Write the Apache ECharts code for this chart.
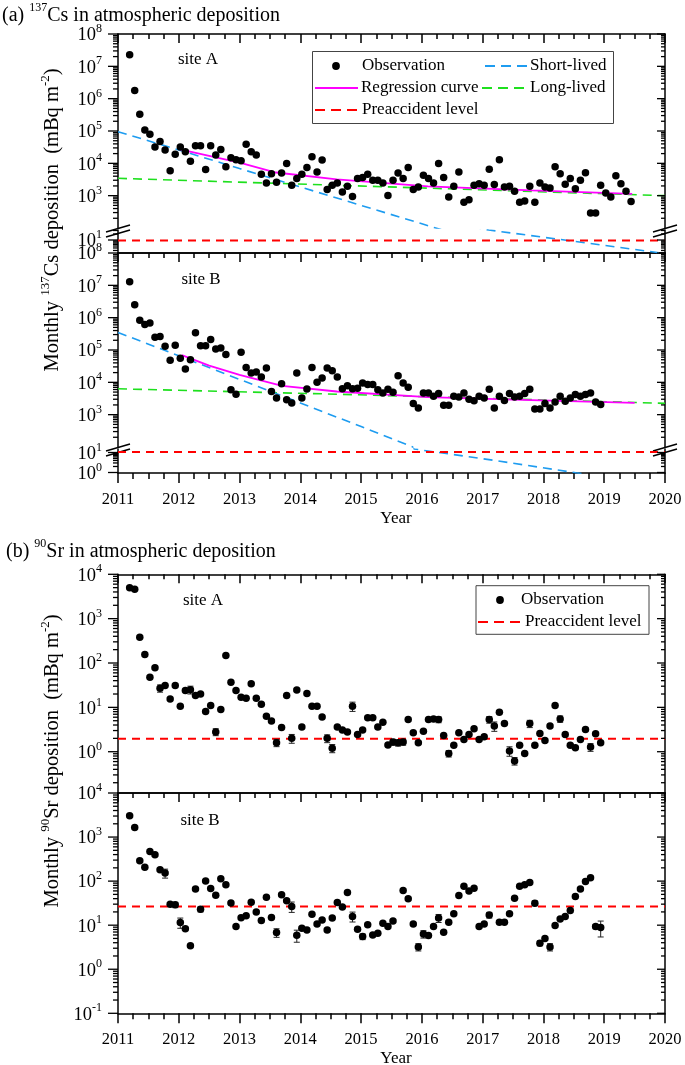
<!DOCTYPE html>
<html><head><meta charset="utf-8">
<script src="https://cdn.jsdelivr.net/npm/echarts@6/dist/echarts.min.js"></script>
<style>html,body{margin:0;padding:0;background:#fff}#c{width:685px;height:1065px}</style>
</head><body><div id="c"></div>
<script>
const FONT = "'Liberation Serif','Times New Roman',serif";

// ---------- DATA (monthly, starting March 2011) ----------
const csObsA = [2.3e7,1.8e6,3.3e5,1.07e5,8e4,3.2e4,4.7e4,2.6e4,5900,1.9e4,3.2e4,2.3e4,1.17e4,3.5e4,3.5e4,6500,3.5e4,1.8e4,2.7e4,7800,
 1.5e4,1.3e4,1.2e4,3.9e4,2.3e4,1.8e4,4600,2450,4800,2600,5000,9800,2100,3400,4600,7400,1.6e4,5400,1.26e4,1550,
 2100,2450,1300,1950,950,3400,3650,4600,3000,3000,2450,1020,3000,5000,3400,7400,1550,1870,4300,3400,
 2450,9800,3650,910,1950,5400,630,750,2100,2350,2100,6600,2200,1.3e4,1870,1950,1380,630,680,1950,
 630,2450,1870,1740,7800,4800,2250,3400,1650,3000,5100,290,290,2100,1200,910,4100,2350,1380,660];
const csObsB = [1.3e7,2.5e6,8.3e5,6.1e5,6.9e5,2.5e5,2.6e5,1.3e5,4.8e4,1.4e5,5.6e4,2.6e4,5e4,3.4e5,1.35e5,1.35e5,2.1e5,1.07e5,1.15e5,7.2e4,
 5900,4300,8.5e4,2.9e4,1.95e4,2.1e4,1.45e4,2.8e4,5200,3300,9100,2900,2300,1.95e4,3300,6200,2.9e4,1e4,1.35e4,2.8e4,
 2.3e4,1.45e4,6300,7900,6300,6600,9600,8500,8500,5900,4700,6100,4900,1.6e4,9600,7100,2200,1600,4700,4700,
 3700,4500,1950,1950,3700,3500,4700,3000,2700,3700,3300,6100,1600,3700,2750,4500,3550,3700,4500,6100,
 1500,1500,2200,1600,2450,3700,2600,3300,4200,3700,4200,4700,2450,2050];
const srObsA = [5000,4600,380,155,48,78,27,31,15.5,31,10.6,24,25,18.6,20,8.1,11,2.8,8.9,148,
 37,24,17,16,34,16,11.8,6.3,4.9,1.6,3.5,18.6,2.0,24.6,3.6,20.5,10.6,10.6,6.1,2.0,
 1.2,3.6,3.07,2.77,10.6,2.45,3.07,5.8,5.8,3.6,4.6,1.41,1.65,1.59,1.65,5.3,2.67,1.59,2.9,5.3,
 5.5,5.3,2.33,0.91,1.39,2.67,1.89,2.45,3.3,1.89,2.17,5.3,3.78,7.8,4.3,1.04,0.62,1.39,0.91,4.3,
 1.39,2.58,1.8,3.78,11,5.5,2.45,1.39,1.23,1.89,3.18,1.27,2.54,1.59];
const srObsB = [3050,1650,290,207,470,395,180,152,30,29,11.5,8.3,3.4,66,23,100,68,48,113,83,
 32,9.3,14.8,16.3,33,19.9,12.8,43,15,6.8,49,36,26.5,5.9,8.5,7.8,17.8,10.7,13.1,7.8,
 14.5,32.7,25.7,55,15.8,8.1,5.5,10.2,6.0,6.6,11.1,9.3,12.5,null,61,40,10.7,3.2,6.3,5.8,
 9.3,14.5,6.9,11.7,18.2,47,76,60,69,9.3,10.7,17,null,11.7,11.7,18.2,41,76,83,93,
 31.6,3.9,5.0,3.2,9.8,13.8,15.8,21.5,45,66,98,120,9.3,8.9];
// error bars: [month index, +/- error]
const srErrA = [[6,5],[12,5],[17,0.5],[29,0.3],[32,0.45],[39,0.4],[40,0.25],[44,2.5],[52,0.25],[53,0.25],[54,0.25],
 [61,0.8],[63,0.15],[71,0.9],[72,0.9],[75,0.25],[76,0.12],[79,0.8],[85,0.9],[91,0.25]];
const srErrB = [[7,35],[9,4],[10,3],[14,3],[29,1.5],[32,7],[33,1.8],[44,4],[46,0.8],[57,0.6],[58,1.2],[61,3],
 [71,2.5],[80,4],[81,0.5],[83,0.6],[92,1],[93,3.5]];
// model curves [year, value]
const csShortA = [[2011,9.5e4],[2012,2.6e4],[2013,6900],[2014,1860],[2015,500],[2016,135],[2016.3,91],
 [2017.1,31.6],[2018.26,10.8],[2019.9,2.3],[2020,2.1]];
const csLongA = [[2011,3440],[2014.6,2100],[2020,1000]];
const csRegA = [[2012.02,2.7e4],[2012.5,1.7e4],[2013.0,1.05e4],[2013.6,5200],[2014.6,3200],[2016.1,1950],[2017.8,1450],[2019.46,1130]];
const csPreA = 9.5;
const csShortB = [[2011,3.5e5],[2012,6.6e4],[2013,1.23e4],[2014,2300],[2015,427],[2015.85,100],
 [2015.87,15],[2016.28,10],[2017.2,4],[2018.53,0.97],[2018.7,0.82]];
const csLongB = [[2011,6300],[2014.6,4300],[2020,2240]];
const csRegB = [[2012.05,6.9e4],[2012.5,3.3e4],[2013.0,1.7e4],[2013.7,7800],[2014.6,5200],[2016.1,3500],[2017.8,2800],[2019.5,2300]];
const csPreB = 10.5;
const srPreA = 1.95;
const srPreB = 26.5;

// ---------- helpers ----------
function mx(i){ return 2011 + (i + 2.3) / 12; }
function pts(vals){ const out=[]; vals.forEach((v,i)=>{ if(v!=null) out.push([mx(i), v]); }); return out; }
function errs(vals, list){ return list.map(([i,e]) => [mx(i), vals[i], Math.max(vals[i]-e, vals[i]*0.2), vals[i]+e]); }

const grids = [
 {top:34,   h:194,   min:1e2, max:1e8, lab:[3,8],  topM:'ticks', botM:'none'},
 {top:230,  h:23,    min:Math.pow(10,0.35), max:Math.pow(10,1.5), lab:[1,1], topM:'none', botM:'line'},
 {top:253,  h:194,   min:1e2, max:1e8, lab:[3,8],  topM:'ticks', botM:'none'},
 {top:449,  h:24,    min:Math.pow(10,-0.025), max:Math.pow(10,1.175), lab:[0,1], topM:'none', botM:'labels'},
 {top:574.3,h:218.4, min:Math.pow(10,-0.924), max:1e4, lab:[0,4], topM:'ticks', botM:'line'},
 {top:793,  h:220.3, min:0.1, max:1e4, lab:[-1,4], topM:'ticks', botM:'labels'}
];

const LS = {color:'#000', width:1.5};
const option = {animation:false, backgroundColor:'#fff', grid:[], xAxis:[], yAxis:[], series:[], graphic:[]};
const richY = {
  b:{fontSize:18.5, fontFamily:FONT, color:'#000', lineHeight:22, verticalAlign:'bottom'},
  s:{fontSize:12, fontFamily:FONT, color:'#000', lineHeight:12, verticalAlign:'top'}
};

grids.forEach((g,i)=>{
  option.grid.push({left:118, width:547, top:g.top, height:g.h, show:false, containLabel:false, outerBoundsMode:'none'});
  option.xAxis.push({type:'value', gridIndex:i, position:'bottom', min:2011, max:2020, interval:1,
    axisLine:{show:g.botM!=='none', onZero:false, lineStyle:LS},
    axisTick:{show:g.botM==='labels', length:10, lineStyle:LS},
    minorTick:{show:g.botM==='labels', splitNumber:4, length:6, lineStyle:LS},
    axisLabel:{show:g.botM==='labels', formatter:v=>String(v), fontFamily:FONT, fontSize:16.5, color:'#000', margin:18},
    splitLine:{show:false}, minorSplitLine:{show:false}});
  option.xAxis.push({type:'value', gridIndex:i, position:'top', min:2011, max:2020, interval:1,
    axisLine:{show:g.topM!=='none', onZero:false, lineStyle:LS},
    axisTick:{show:g.topM==='ticks', inside:true, length:9, lineStyle:LS},
    minorTick:{show:g.topM==='ticks', splitNumber:4, length:5, lineStyle:LS},
    axisLabel:{show:false}, splitLine:{show:false}, minorSplitLine:{show:false}});
  option.yAxis.push({type:'log', logBase:10, gridIndex:i, position:'left', min:g.min, max:g.max,
    axisLine:{show:true, onZero:false, lineStyle:LS}, axisTick:{show:false}, minorTick:{show:false},
    splitLine:{show:false}, minorSplitLine:{show:false},
    axisLabel:{margin:16, rich:richY, formatter:(v)=>{ const e=Math.log10(v), r=Math.round(e);
      if (Math.abs(e-r)>1e-6 || r<g.lab[0] || r>g.lab[1]) return ''; return '{b|10}{s|'+r+'}'; }}});
  option.yAxis.push({type:'log', logBase:10, gridIndex:i, position:'right', min:g.min, max:g.max,
    axisLine:{show:true, onZero:false, lineStyle:LS}, axisTick:{show:false}, minorTick:{show:false},
    splitLine:{show:false}, minorSplitLine:{show:false}, axisLabel:{show:false}});
  // y ticks (major at powers of 10, minor at 2..9 x 10^n)
  const tk=[];
  for (let n=-2;n<=8;n++){
    for (let k=1;k<=9;k++){
      const v=k*Math.pow(10,n);
      if (v < g.min*0.999 || v > g.max*1.001) continue;
      if (k===1 && (n<g.lab[0] || n>g.lab[1])) continue;
      tk.push([2011, v, k===1?1:0]);
    }
  }
  option.series.push({type:'custom', xAxisIndex:2*i, yAxisIndex:2*i, data:tk, silent:true, z:5,
    encode:{x:0,y:1},
    renderItem:(p,api)=>{ const v=api.value(1), maj=api.value(2);
      const pl=api.coord([2011,v]), pr=api.coord([2020,v]);
      const L=maj?10:5, R=maj?8:4;
      return {type:'group', children:[
        {type:'line', shape:{x1:pl[0]-L,y1:pl[1],x2:pl[0],y2:pl[1]}, style:{stroke:'#000',lineWidth:1.3}},
        {type:'line', shape:{x1:pr[0]-R,y1:pr[1],x2:pr[0],y2:pr[1]}, style:{stroke:'#000',lineWidth:1.3}}]};
    }});
});

function line(data, gi, color, width, dash, z){
  option.series.push({type:'line', xAxisIndex:2*gi, yAxisIndex:2*gi, data, symbol:'none', showSymbol:false,
    silent:true, z:z||2, clip:true, lineStyle:{color, width, type:dash||'solid', opacity:1}});
}
function scatter(data, gi){
  option.series.push({type:'scatter', xAxisIndex:2*gi, yAxisIndex:2*gi, data, symbol:'circle', symbolSize:7.5,
    itemStyle:{color:'#000', opacity:1, borderWidth:0}, silent:true, z:4});
}
function errbar(data, gi){
  option.series.push({type:'custom', xAxisIndex:2*gi, yAxisIndex:2*gi, data, silent:true, z:3,
    encode:{x:0,y:1},
    renderItem:(p,api)=>{ const x=api.value(0);
      const a=api.coord([x,api.value(2)]), b=api.coord([x,api.value(3)]);
      const st={stroke:'#222',lineWidth:1};
      return {type:'group', children:[
        {type:'line', shape:{x1:a[0],y1:a[1],x2:b[0],y2:b[1]}, style:st},
        {type:'line', shape:{x1:a[0]-3,y1:a[1],x2:a[0]+3,y2:a[1]}, style:st},
        {type:'line', shape:{x1:b[0]-3,y1:b[1],x2:b[0]+3,y2:b[1]}, style:st}]};
    }});
}
const BLUE='#1e9cf0', GREEN='#1ee01e', MAG='#ff00ff', RED='#ff0000';
const D=[9,6];
// panel (a) site A
line(csLongA,0,GREEN,1.6,D); line(csShortA,0,BLUE,1.6,D); line(csShortA,1,BLUE,1.6,D);
line(csRegA,0,MAG,1.8,'solid',3); line([[2011,csPreA],[2020,csPreA]],1,RED,2,[8,6]);
scatter(pts(csObsA),0);
// panel (a) site B
line(csLongB,2,GREEN,1.6,D); line(csShortB,2,BLUE,1.6,D); line(csShortB,3,BLUE,1.6,D);
line(csRegB,2,MAG,1.8,'solid',3); line([[2011,csPreB],[2020,csPreB]],3,RED,2,[8,6]);
scatter(pts(csObsB),2);
// panel (b)
line([[2011,srPreA],[2020,srPreA]],4,RED,2,[8,6]); errbar(errs(srObsA,srErrA),4); scatter(pts(srObsA),4);
line([[2011,srPreB],[2020,srPreB]],5,RED,2,[8,6]); errbar(errs(srObsB,srErrB),5); scatter(pts(srObsB),5);

// ---------- decorations ----------
const G=option.graphic;
const rich = (fs)=>({n:{fontSize:fs,fontFamily:FONT,fill:'#000',lineHeight:fs+4,verticalAlign:'bottom'},
                     s:{fontSize:Math.round(fs*0.62),fontFamily:FONT,fill:'#000',lineHeight:Math.round(fs*0.62),verticalAlign:'top'}});
function txt(x,y,text,fs,align,rot){ G.push({type:'text', x, y, rotation:rot||0, z:50,
  style:{text, rich:rich(fs), fontSize:fs, fontFamily:FONT, fill:'#000', align:align||'left', verticalAlign:'middle'}}); }
txt(2,13.5,'{n|(a) }{s|137}{n|Cs in atmospheric deposition}',20);
txt(6,550,'{n|(b) }{s|90}{n|Sr in atmospheric deposition}',20);
txt(51,220,'{n|Monthly }{s|137}{n|Cs deposition  (mBq m}{s|-2}{n|)}',20.5,'center',Math.PI/2);
txt(51,761,'{n|Monthly }{s|90}{n|Sr deposition  (mBq m}{s|-2}{n|)}',20.5,'center',Math.PI/2);
txt(198,58,'{n|site A}',17,'center'); txt(201,278,'{n|site B}',17,'center');
txt(203,599,'{n|site A}',17,'center'); txt(200,819,'{n|site B}',17,'center');
txt(396,517,'{n|Year}',17,'center'); txt(396,1057,'{n|Year}',17,'center');

function brk(x,y){ G.push({type:'group', x, y, z:60, children:[
  {type:'polygon', shape:{points:[[-12,1],[12,-6],[12,-1],[-12,6]]}, style:{fill:'#fff'}},
  {type:'line', shape:{x1:-12,y1:1,x2:12,y2:-6}, style:{stroke:'#000',lineWidth:1.5}},
  {type:'line', shape:{x1:-12,y1:6,x2:12,y2:-1}, style:{stroke:'#000',lineWidth:1.5}}]}); }
brk(118,231); brk(665,231); brk(118,450); brk(665,450);

function lg(items){ items.forEach(o=>G.push(Object.assign({z:70},o))); }
const lt = (x,y,t)=>({type:'text', x, y, style:{text:t, fontSize:17, fontFamily:FONT, fill:'#000', verticalAlign:'middle'}});
const ll = (x1,x2,y,c,w,dash)=>({type:'line', shape:{x1,y1:y,x2,y2:y}, style:{stroke:c,lineWidth:w,lineDash:dash||null}});
lg([
  {type:'rect', shape:{x:312.5,y:51.5,width:301,height:72}, style:{fill:'#fff',stroke:'#444',lineWidth:1}, z:69},
  {type:'circle', shape:{cx:336,cy:66,r:3.9}, style:{fill:'#000'}},
  lt(362,66,'Observation'),
  ll(485,527,66,BLUE,1.8,[10,6]), lt(530,66,'Short-lived'),
  ll(315,358,88,MAG,2), lt(361,88,'Regression curve'),
  ll(482,527,88,GREEN,1.8,[10,6]), lt(530,88,'Long-lived'),
  ll(315,358,110,RED,2,[10,6]), lt(362,110,'Preaccident level'),
  {type:'rect', shape:{x:476,y:585.7,width:173,height:48.6}, style:{fill:'#fff',stroke:'#444',lineWidth:1}, z:69},
  {type:'circle', shape:{cx:500,cy:600,r:3.9}, style:{fill:'#000'}},
  lt(521,600,'Observation'),
  ll(478,522,622,RED,2,[10,6]), lt(525,622,'Preaccident level')
]);

const chart = echarts.init(document.getElementById('c'), null, {renderer:'canvas', width:685, height:1065});
chart.setOption(option);
</script></body></html>
